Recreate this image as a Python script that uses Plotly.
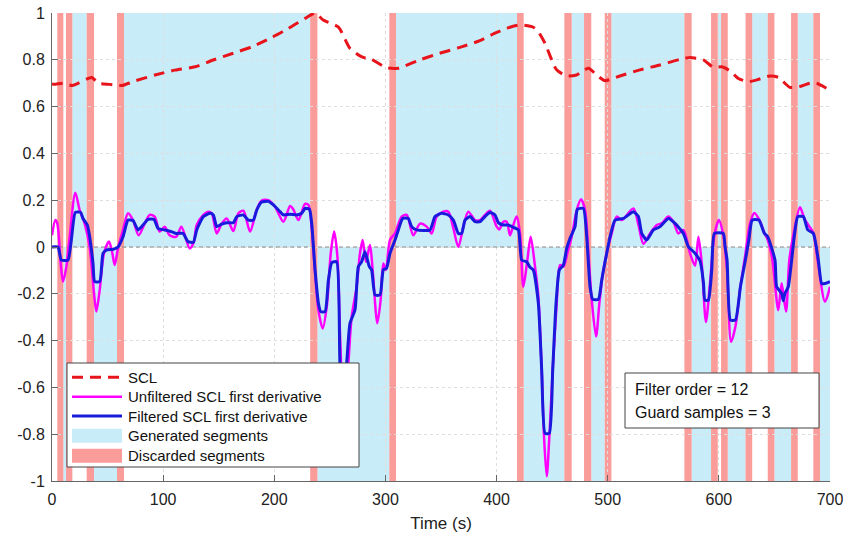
import plotly.graph_objects as go

# ---------------- data ----------------
scl_t = [0, 1.2, 10.2, 18.3, 35.7, 41.7, 52, 62.7, 73, 92.7, 110.7, 128.7, 145, 163, 180, 198,
         212.7, 227.7, 236.7, 244, 257.7, 268, 280, 286, 301, 311.5, 331, 349, 367, 385, 400,
         412, 421, 433, 437.6, 443.6, 449.6, 454, 463, 472, 482.6, 490, 497.6, 511, 529, 547,
         565, 574, 586, 595, 602.6, 610, 617.6, 626.5, 634, 646, 653.5, 664, 673, 682, 688, 698.5, 700]
scl_v = [0.70, 0.695, 0.70, 0.69, 0.724, 0.70, 0.695, 0.69, 0.707, 0.735, 0.756, 0.77, 0.799, 0.828, 0.856, 0.896,
         0.934, 0.977, 1.0, 0.97, 0.94, 0.849, 0.81, 0.806, 0.766, 0.764, 0.80, 0.828, 0.853, 0.882, 0.917,
         0.939, 0.949, 0.939, 0.92, 0.87, 0.80, 0.757, 0.731, 0.735, 0.764, 0.735, 0.711, 0.731, 0.757, 0.778,
         0.802, 0.81, 0.80, 0.768, 0.77, 0.753, 0.72, 0.706, 0.714, 0.731, 0.725, 0.682, 0.686, 0.70, 0.70, 0.674, 0.67]

filt_t = [0, 5.4, 8.4, 14.4, 17.4, 21, 25.8, 27.9, 31.8, 33.9, 36.9, 38.4, 42.9, 45.9, 48.9, 54.9, 59.4,
          63.9, 68.4, 72.9, 77.4, 81.9, 86.4, 91.8, 95.4, 101.4, 107.4, 111.9, 117.9, 122.4, 127.2, 130.2,
          136.2, 142.2, 145.2, 148.2, 152.7, 157.2, 163.2, 166.2, 172.2, 176.7, 181.2, 184.2, 188.7, 194.7,
          199.2, 205.2, 208.2, 214.2, 220.2, 224.7, 227.7, 231.6, 233.7, 236.7, 239.7, 241.8, 245.7, 248.7,
          251.7, 256.1, 259.1, 262, 265.1, 268.1, 272.6, 275.6, 278.6, 281.6, 285.5, 287.6, 290.6, 295.1,
          298.1, 301.1, 304.1, 308.6, 311.6, 315.5, 320.6, 323.6, 328.1, 340.1, 344.6, 350.6, 356.6, 361.1,
          365.6, 368.6, 371.6, 376.1, 380.6, 385.1, 389.6, 394.1, 398.6, 401.6, 406.1, 410.6, 415.1, 419.6,
          422.6, 427.1, 430.1, 433.1, 437.6, 440.6, 443.6, 447.5, 450.5, 453.5, 456.5, 460.1, 463.1, 466.1,
          470.6, 472.7, 478.1, 481.1, 484.1, 486.5, 491.6, 494.6, 497.6, 499.7, 502.1, 506.6, 514.1, 523.1,
          527.6, 530.6, 535.1, 541.1, 547.1, 554.6, 560.6, 568.1, 572.6, 578.6, 583.1, 586.1, 587.5, 590.6,
          593.6, 596, 604, 605.6, 607.4, 610.4, 614.9, 619.4, 623.9, 627, 630, 636, 641, 644, 650.5, 652,
          656.5, 658, 659.5, 662.5, 665.5, 668, 671, 676, 680, 685, 689.5, 692.5, 695.5, 700]
filt_v = [0.0, 0.0, -0.056, -0.056, 0.03, 0.148, 0.148, 0.122, 0.094, 0.044, -0.07, -0.148, -0.148, -0.027, -0.013, -0.01, 0.0,
          0.044, 0.115, 0.113, 0.073, 0.094, 0.118, 0.118, 0.08, 0.073, 0.066, 0.058, 0.058, 0.023, 0.02, 0.073,
          0.13, 0.144, 0.137, 0.087, 0.098, 0.104, 0.104, 0.13, 0.137, 0.115, 0.115, 0.158, 0.192, 0.195,
          0.18, 0.151, 0.137, 0.14, 0.137, 0.144, 0.165, 0.162, 0.10, -0.098, -0.24, -0.276, -0.276, -0.141,
          -0.067, -0.063, -0.497, -0.62, -0.497, -0.326, -0.269, -0.084, -0.063, -0.02, -0.084, -0.098, -0.205, -0.205,
          -0.098, -0.09, -0.027, 0.03, 0.073, 0.122, 0.122, 0.087, 0.073, 0.073, 0.13, 0.144, 0.137, 0.115,
          0.058, 0.058, 0.115, 0.13, 0.108, 0.108, 0.13, 0.147, 0.137, 0.104, 0.094, 0.094, 0.084, 0.073,
          -0.056, -0.063, -0.087, -0.098, -0.241, -0.526, -0.796, -0.796, -0.526, -0.241, -0.098, -0.077, -0.006, 0.037,
          0.087, 0.161, 0.165, 0.044, -0.17, -0.224, -0.224, -0.141, -0.063, -0.013, 0.044, 0.115, 0.122, 0.151,
          0.13, 0.058, 0.03, 0.073, 0.087, 0.122, 0.101, 0.058, 0.001, -0.027, -0.06, -0.15, -0.227, -0.227,
          -0.1, 0.058, 0.058, 0.0, -0.056, -0.312, -0.312, -0.17, -0.056, 0.03, 0.115, 0.115, 0.058, 0.044, -0.056, -0.17,
          -0.198, -0.23, -0.198, -0.17, -0.056, 0.05, 0.13, 0.13, 0.073, 0.058, -0.056, -0.156, -0.156, -0.148]

unf_t = [0, 3, 4.8, 7.8, 9.9, 12.9, 15.9, 21, 24.9, 29.4, 33.9, 37.8, 39.9, 42.9, 46.8, 51.3, 54.3, 56.4,
         59.4, 63.9, 68.4, 72.9, 78, 83.4, 87.9, 92.4, 96.9, 101.4, 105.9, 111.9, 116.4, 123.9, 127.5, 130.2,
         136.2, 140.7, 143.7, 148.2, 152.7, 157.2, 163.2, 167.7, 172.2, 178.2, 184.2, 188.7, 194.7, 200.7,
         208.2, 214.2, 217.2, 221.7, 227.7, 230.7, 233.7, 236.7, 239.7, 243.6, 247.2, 250.8, 253.8, 256.8,
         259.2, 262.5, 266.6, 269.6, 274.1, 277.1, 279.5, 282.5, 286.1, 288.5, 292.7, 295.7, 298.1, 300.5,
         304.1, 308.6, 314.6, 319.1, 325.1, 331.1, 337.1, 341.6, 346.1, 352.1, 356.6, 361.1, 365.6, 370.1,
         374.6, 380.6, 385.1, 389.6, 394.1, 400.1, 402.5, 406.1, 409.1, 412.1, 415.1, 418.1, 421.1, 424.1,
         427.7, 430.7, 434.6, 437.6, 440.6, 442.7, 445.1, 447.5, 450.5, 454.1, 457.1, 460.1, 464, 467.6,
         472.1, 476, 479.6, 482.6, 485.6, 489.5, 492.5, 496.1, 499.7, 503.6, 508.1, 512.6, 523.1, 527.6,
         532.1, 538.1, 544.1, 548.6, 554.6, 559.1, 563.6, 568.1, 574.1, 578.6, 581.6, 584.6, 588.4, 592.1,
         596, 600, 604, 607.4, 611, 614.9, 619.4, 623.9, 628, 632, 637, 641, 644, 648, 653.5, 656.5, 660.4,
         663.4, 667, 673, 677, 681, 685, 689, 695.5, 700]
unf_v = [0.05, 0.115, 0.10, -0.07, -0.148, -0.084, 0.044, 0.232, 0.158, 0.10, 0.0, -0.198, -0.276, -0.184, -0.027, 0.023, -0.027, -0.077,
         -0.006, 0.073, 0.144, 0.115, 0.05, 0.10, 0.137, 0.13, 0.066, 0.087, 0.05, 0.044, 0.087, -0.006, 0.02, 0.094,
         0.137, 0.151, 0.144, 0.058, 0.10, 0.122, 0.068, 0.144, 0.155, 0.066, 0.16, 0.198, 0.2, 0.172,
         0.108, 0.175, 0.16, 0.115, 0.184, 0.18, 0.08, -0.113, -0.27, -0.348, -0.255, -0.027, 0.066, -0.041,
         -0.38, -0.72, -0.5, -0.3, -0.17, -0.027, 0.03, -0.063, 0.009, -0.098, -0.326, -0.226, -0.07, -0.098,
         0.03, 0.058, 0.13, 0.137, 0.05, 0.10, 0.087, 0.058, 0.13, 0.151, 0.151, 0.08, 0.0, 0.087,
         0.151, 0.115, 0.115, 0.137, 0.155, 0.087, 0.075, 0.108, 0.108, 0.05, 0.094, 0.13, 0.058, -0.17,
         -0.056, 0.044, -0.084, -0.212, -0.526, -0.81, -0.98, -0.81, -0.526, -0.241, -0.077, -0.084, -0.02, 0.044,
         0.158, 0.204, 0.158, -0.027, -0.226, -0.383, -0.24, -0.098, -0.013, 0.058, 0.13, 0.115, 0.165, 0.095,
         0.014, 0.058, 0.094, 0.101, 0.13, 0.108, 0.058, 0.073, -0.027, -0.08, 0.044, -0.07, -0.32, -0.15,
         0.05, 0.115, 0.05, -0.1, -0.405, -0.34, -0.17, -0.03, 0.1, 0.145, 0.11, 0.06, 0.03, -0.05, -0.27, -0.155, -0.276,
         -0.056, 0.05, 0.17, 0.12, 0.09, 0.06, -0.06, -0.234, -0.17]

# discarded segments (s)
disc_start = [4.8, 12.6, 31.2, 58.5, 232.3, 303.5, 418.4, 461.0, 478.7, 497.3, 569.0, 593.0, 602.0, 624.0, 644.0, 665.0, 685.0]
disc_end = [10.2, 18.3, 37.8, 64.8, 238.8, 309.5, 424.4, 467.6, 485.2, 503.3, 575.5, 599.0, 608.0, 630.0, 650.0, 671.0, 691.0]
# generated segments (s) and sign of the derivative
gen_start = [10.2, 18.3, 37.8, 64.8, 238.8, 309.5, 424.4, 467.6, 485.2, 503.3, 575.5, 599.0, 608.0, 630.0, 650.0, 671.0, 691.0]
gen_end = [12.6, 31.2, 58.5, 232.3, 303.5, 418.4, 461.0, 478.7, 497.3, 569.0, 593.0, 602.0, 624.0, 644.0, 665.0, 685.0, 700.0]
gen_sign = [-1, 1, -1, 1, -1, 1, -1, 1, -1, 1, -1, 1, -1, 1, -1, 1, -1]

x_ticks = [0, 100, 200, 300, 400, 500, 600, 700]
x_ticktext = ["0", "100", "200", "300", "400", "500", "600", "700"]
y_ticks = [-1, -0.8, -0.6, -0.4, -0.2, 0, 0.2, 0.4, 0.6, 0.8, 1]
y_ticktext = ["-1", "-0.8", "-0.6", "-0.4", "-0.2", "0", "0.2", "0.4", "0.6", "0.8", "1"]

legend_labels = ["SCL", "Unfiltered SCL first derivative", "Filtered SCL first derivative",
                 "Generated segments", "Discarded segments"]
info_lines = ["Filter order = 12", "Guard samples = 3"]

# ---------------- style ----------------
C_GEN = "#c8edf9"
C_DISC = "#f99c9a"
C_SCL = "#e8141c"
C_UNF = "#ff00ff"
C_FILT = "#1a1adc"
FONT = "Liberation Sans, Arial, sans-serif"

W, H = 843, 539
# plot-area edges in pixels
RL, RR, RT, RB = 52, 830, 13, 481


def fx(px):
    return (px - RL) / (RR - RL)


def fy(py):
    return (RB - py) / (RB - RT)


fig = go.Figure()

fig.add_trace(go.Scatter(x=scl_t, y=scl_v, mode="lines", showlegend=False,
                         line=dict(color=C_SCL, width=3, dash="11px,7px", shape="spline", smoothing=0.6)))
fig.add_trace(go.Scatter(x=unf_t, y=unf_v, mode="lines", showlegend=False,
                         line=dict(color=C_UNF, width=2.5, shape="spline", smoothing=0.8)))
fig.add_trace(go.Scatter(x=filt_t, y=filt_v, mode="lines", showlegend=False,
                         line=dict(color=C_FILT, width=3, shape="spline", smoothing=0.5)))

shapes = []
for s, e, sg in zip(gen_start, gen_end, gen_sign):
    y0, y1 = (0, 1) if sg > 0 else (-1, 0)
    shapes.append(dict(type="rect", xref="x", yref="y", x0=s, x1=e, y0=y0, y1=y1,
                       fillcolor=C_GEN, line=dict(width=0), layer="below"))
for s, e in zip(disc_start, disc_end):
    shapes.append(dict(type="rect", xref="x", yref="y", x0=s, x1=e, y0=-1, y1=1,
                       fillcolor=C_DISC, line=dict(width=0), layer="below"))
# zero reference line
shapes.append(dict(type="line", xref="x", yref="y", x0=0, x1=700, y0=0, y1=0,
                   line=dict(color="#8a8a8a", width=1, dash="4px,3px"), layer="between"))

# ---- legend box (manual) ----
shapes.append(dict(type="rect", xref="paper", yref="paper", x0=fx(67), x1=fx(359), y0=fy(467), y1=fy(363),
                   fillcolor="white", line=dict(color="#444", width=1), layer="above"))
rows = [377.3, 396.7, 416.0, 435.7, 455.7]
sx0, sx1 = 72, 122
shapes.append(dict(type="line", xref="paper", yref="paper", x0=fx(sx0), x1=fx(sx1), y0=fy(rows[0]), y1=fy(rows[0]),
                   line=dict(color=C_SCL, width=3, dash="11px,7px"), layer="above"))
shapes.append(dict(type="line", xref="paper", yref="paper", x0=fx(sx0), x1=fx(sx1), y0=fy(rows[1]), y1=fy(rows[1]),
                   line=dict(color=C_UNF, width=2.5), layer="above"))
shapes.append(dict(type="line", xref="paper", yref="paper", x0=fx(sx0), x1=fx(sx1), y0=fy(rows[2]), y1=fy(rows[2]),
                   line=dict(color=C_FILT, width=3), layer="above"))
shapes.append(dict(type="rect", xref="paper", yref="paper", x0=fx(sx0), x1=fx(sx1), y0=fy(rows[3] + 7), y1=fy(rows[3] - 7),
                   fillcolor=C_GEN, line=dict(width=0), layer="above"))
shapes.append(dict(type="rect", xref="paper", yref="paper", x0=fx(sx0), x1=fx(sx1), y0=fy(rows[4] + 7), y1=fy(rows[4] - 7),
                   fillcolor=C_DISC, line=dict(width=0), layer="above"))

annotations = []
for lbl, r in zip(legend_labels, rows):
    annotations.append(dict(xref="paper", yref="paper", x=fx(126), y=fy(r), text=lbl, showarrow=False,
                            xanchor="left", yanchor="middle", font=dict(family=FONT, size=15, color="#111")))

# ---- info box ----
shapes.append(dict(type="rect", xref="paper", yref="paper", x0=fx(625), x1=fx(819), y0=fy(428), y1=fy(373),
                   fillcolor="white", line=dict(color="#444", width=1), layer="above"))
for txt, r in zip(info_lines, [389.5, 412.0]):
    annotations.append(dict(xref="paper", yref="paper", x=fx(633), y=fy(r), text=txt, showarrow=False,
                            xanchor="left", yanchor="middle", font=dict(family=FONT, size=16, color="#111")))

fig.update_layout(
    width=W, height=H,
    margin=dict(l=RL, r=W - RR, t=RT, b=H - RB),
    paper_bgcolor="white", plot_bgcolor="white",
    showlegend=False,
    shapes=shapes, annotations=annotations,
    font=dict(family=FONT, size=16, color="#222"),
)
fig.update_xaxes(range=[0, 700], tickvals=x_ticks, ticktext=x_ticktext, automargin=False,
                 ticklabeloverflow="allow",
                 showgrid=True, gridcolor="#dedede", griddash="dot", gridwidth=1,
                 zeroline=False, showline=True, linecolor="#666", linewidth=1,
                 ticks="inside", ticklen=6, tickcolor="#666", ticklabelstandoff=4,
                 title=dict(text="Time (s)", font=dict(family=FONT, size=17, color="#222"), standoff=9),
                 tickfont=dict(family=FONT, size=16, color="#222"))
fig.update_yaxes(range=[-1, 1], tickvals=y_ticks, ticktext=y_ticktext, automargin=False,
                 ticklabeloverflow="allow",
                 showgrid=True, gridcolor="#dedede", griddash="dot", gridwidth=1,
                 zeroline=False, showline=True, linecolor="#666", linewidth=1,
                 ticks="inside", ticklen=6, tickcolor="#666", ticklabelstandoff=3,
                 tickfont=dict(family=FONT, size=16, color="#222"))

fig.write_html("out.html", config={"displayModeBar": False},
               post_script="document.body.style.margin='0px';document.body.style.overflow='hidden';")
